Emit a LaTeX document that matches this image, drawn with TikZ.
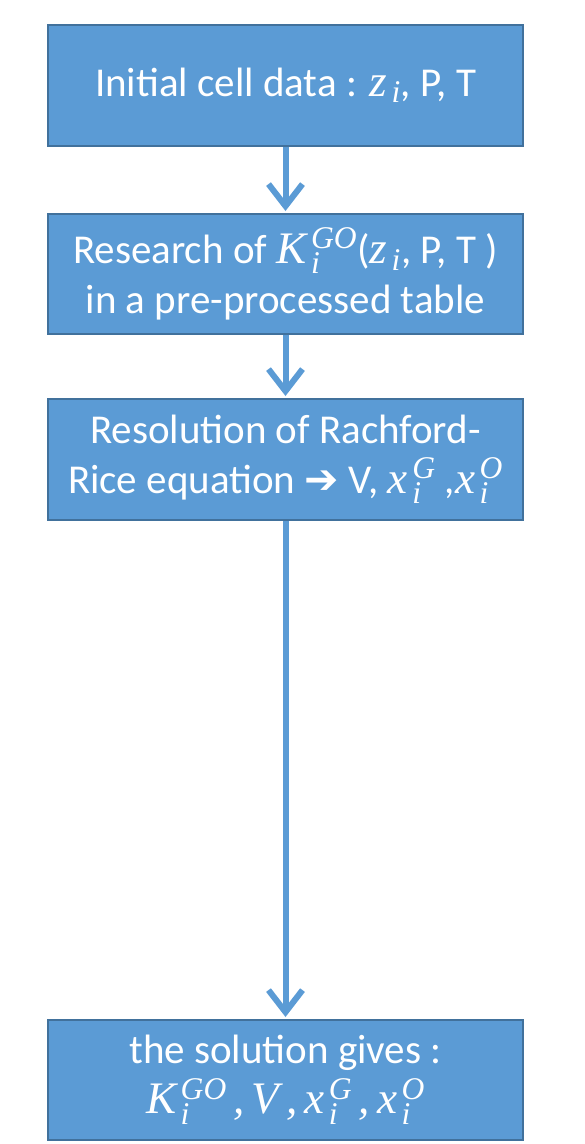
\RequirePackage{fix-cm}
\documentclass[tikz,border=0pt]{standalone}
\usepackage{fontspec}
\setmainfont{Carlito}
\newfontfamily\symfont{DejaVu Sans}
\newfontfamily\mathlettfont[NFSSFamily=mathlett, Scale=1.1]{Liberation Serif}
\DeclareSymbolFont{letters}{TU}{mathlett}{m}{it}
\DeclareMathSymbol{,}{\mathpunct}{letters}{"2C}
\newcommand{\sk}{\mkern2mu}
\usetikzlibrary{arrows.meta}
\definecolor{boxfill}{HTML}{5B9BD5}
\definecolor{boxedge}{HTML}{41719C}
\tikzset{
  stepbox/.style={draw=boxedge, line width=1.5pt, fill=boxfill, text=white,
    minimum width=475pt, minimum height=121pt, align=center, inner sep=0pt,
    font=\fontsize{41}{50}\selectfont},
  flow/.style={draw=boxfill, line width=6pt,
    -{Straight Barb[length=22pt, width=34pt, line width=6pt]}, shorten >=2pt}
}
\begin{document}
\begin{tikzpicture}[x=1pt,y=1pt]
\useasboundingbox (0,0) rectangle (585,-1144);
\node[stepbox, anchor=north] (b1) at (285.5,-24)
  {Initial cell data : $z\sk_i$, P, T};
\node[stepbox, anchor=north, minimum height=120pt] (b2) at (285.5,-213)
  {Research of $K\sk_i^{GO}$($z\sk_i$, P, T )\\in a pre-processed table};
\node[stepbox, anchor=north] (b3) at (285.5,-398)
  {Resolution of Rachford-\\Rice equation {\symfont ➔} V, $x\sk_i^G$ ,$x\sk_i^O$};
\node[stepbox, anchor=north, minimum height=120pt] (b4) at (285.5,-1019)
  {the solution gives :\\$K\sk_i^{GO}\,, V\,, x\sk_i^G\,, x\sk_i^O$};
\draw[flow] (b1.south) -- (b2.north);
\draw[flow] (b2.south) -- (b3.north);
\draw[flow] (b3.south) -- (b4.north);
\end{tikzpicture}
\end{document}
